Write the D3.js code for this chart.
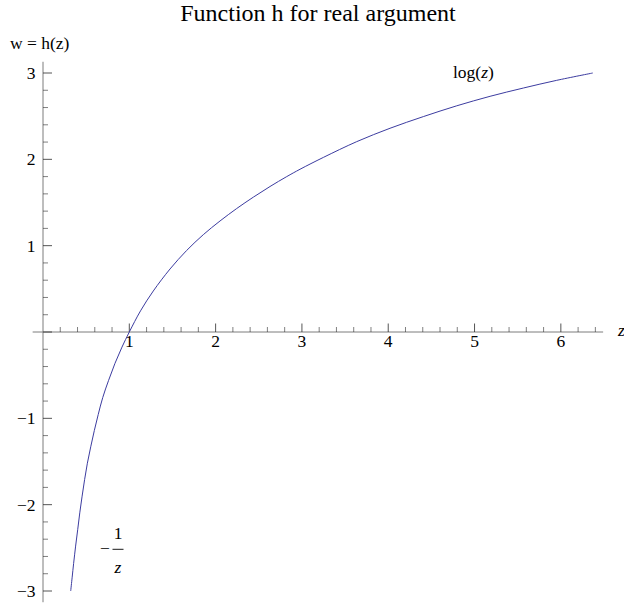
<!DOCTYPE html>
<html>
<head>
<meta charset="utf-8">
<script src="https://cdn.jsdelivr.net/npm/d3@7"></script>
<style>
  html, body { margin: 0; padding: 0; background: #fff; }
  svg { display: block; }
  text { font-family: "Liberation Serif", "Times New Roman", serif; fill: #000; }
</style>
</head>
<body>
<svg id="chart" width="624" height="605"></svg>
<script>
// Sampled values of w = h(z) along the real axis
const zValues = [0.321, 0.338, 0.355, 0.378, 0.402, 0.426, 0.452, 0.482, 0.514, 0.553, 0.595, 0.64, 0.692, 0.76, 0.834, 0.915, 1.0,
                 1.13, 1.278, 1.472, 1.665, 1.858, 2.051, 2.244, 2.437, 2.63, 2.824, 2.978, 3.248, 3.635, 4.021, 4.407, 4.794, 5.18, 5.566, 5.952, 6.37];
const wValues = [-3.0, -2.84, -2.68, -2.48, -2.29, -2.095, -1.91, -1.71, -1.52, -1.33, -1.14, -0.955, -0.76, -0.56, -0.363, -0.175, 0.0,
                 0.245, 0.475, 0.73, 0.945, 1.128, 1.286, 1.43, 1.562, 1.685, 1.80, 1.885, 2.022, 2.205, 2.36, 2.495, 2.62, 2.73, 2.826, 2.915, 3.0];

// Axis ticks
const xMajorTicks = [1, 2, 3, 4, 5, 6];
const xMinorTicks = d3.range(1, 33).map(i => i * 0.2).filter(v => Math.abs(v - Math.round(v)) > 1e-6);
const yMajorTicks = [-3, -2, -1, 0, 1, 2, 3];
const yMinorTicks = d3.range(-15, 16).map(i => i * 0.2).filter(v => Math.abs(v - Math.round(v)) > 1e-6);
const xTickLabels = ["1", "2", "3", "4", "5", "6"];
const yTickLabels = ["\u22123", "\u22122", "\u22121", "", "1", "2", "3"];

const titleText = "Function h for real argument";
const yAxisTitle = "w = h(z)";

const svg = d3.select("#chart");

const x = d3.scaleLinear().domain([0, 6.5]).range([43, 604]);
const y = d3.scaleLinear().domain([-3, 3]).range([591, 73]);

const axisColor = "#7c7c7c";
const tickColor = "#2a2a2a";
const fs = 17.5;

// Axis lines
svg.append("line")
  .attr("x1", x(-0.12)).attr("x2", x(6.49))
  .attr("y1", y(0)).attr("y2", y(0))
  .attr("stroke", axisColor).attr("stroke-width", 1);
svg.append("line")
  .attr("x1", x(0)).attr("x2", x(0))
  .attr("y1", y(3.13)).attr("y2", y(-3.13))
  .attr("stroke", axisColor).attr("stroke-width", 1);

// x ticks (pointing up)
svg.append("g").selectAll("line").data(xMajorTicks).join("line")
  .attr("x1", d => x(d)).attr("x2", d => x(d))
  .attr("y1", y(0)).attr("y2", y(0) - 8.5)
  .attr("stroke", tickColor).attr("stroke-width", 0.8);
svg.append("g").selectAll("line").data(xMinorTicks).join("line")
  .attr("x1", d => x(d)).attr("x2", d => x(d))
  .attr("y1", y(0)).attr("y2", y(0) - 5)
  .attr("stroke", tickColor).attr("stroke-width", 0.6);

// y ticks (pointing right)
svg.append("g").selectAll("line").data(yMajorTicks).join("line")
  .attr("x1", x(0)).attr("x2", x(0) + 9)
  .attr("y1", d => y(d)).attr("y2", d => y(d))
  .attr("stroke", tickColor).attr("stroke-width", 0.8);
svg.append("g").selectAll("line").data(yMinorTicks).join("line")
  .attr("x1", x(0)).attr("x2", x(0) + 5)
  .attr("y1", d => y(d)).attr("y2", d => y(d))
  .attr("stroke", tickColor).attr("stroke-width", 0.6);

// Tick labels
svg.append("g").selectAll("text").data(xMajorTicks).join("text")
  .attr("x", d => x(d)).attr("y", y(0) + 15)
  .attr("text-anchor", "middle").attr("font-size", fs)
  .text((d, i) => xTickLabels[i]);
svg.append("g").selectAll("text").data(yMajorTicks).join("text")
  .attr("x", x(0) - 7.5).attr("y", d => y(d) + 6)
  .attr("text-anchor", "end").attr("font-size", fs)
  .text((d, i) => yTickLabels[i]);

// Axis labels
svg.append("text").attr("x", 618).attr("y", y(0) + 3.5)
  .attr("font-size", fs).attr("font-style", "italic").text("z");
svg.append("text").attr("x", 10).attr("y", 49)
  .attr("font-size", fs).text(yAxisTitle);

// Title
svg.append("text").attr("x", 318).attr("y", 21)
  .attr("text-anchor", "middle").attr("font-size", 24).text(titleText);

// Curve
const pts = zValues.map((z, i) => [z, wValues[i]]);
svg.append("path")
  .datum(pts)
  .attr("fill", "none")
  .attr("stroke", "#3c3ca0")
  .attr("stroke-width", 1)
  .attr("d", d3.line().x(d => x(d[0])).y(d => y(d[1])).curve(d3.curveCatmullRom.alpha(0.5)));

// Branch annotations
const logLabel = svg.append("text").attr("x", 453).attr("y", 78).attr("font-size", fs);
logLabel.append("tspan").text("log(");
logLabel.append("tspan").attr("font-style", "italic").text("z");
logLabel.append("tspan").text(")");

const fx = 118;
svg.append("text").attr("x", 105).attr("y", 554).attr("text-anchor", "middle")
  .attr("font-size", fs).text("\u2212");
svg.append("text").attr("x", fx).attr("y", 538.5).attr("text-anchor", "middle")
  .attr("font-size", fs).text("1");
svg.append("line").attr("x1", fx - 5.5).attr("x2", fx + 5.5)
  .attr("y1", 549.3).attr("y2", 549.3).attr("stroke", "#000").attr("stroke-width", 0.9);
svg.append("text").attr("x", fx).attr("y", 573).attr("text-anchor", "middle")
  .attr("font-size", fs).attr("font-style", "italic").text("z");
</script>
</body>
</html>
